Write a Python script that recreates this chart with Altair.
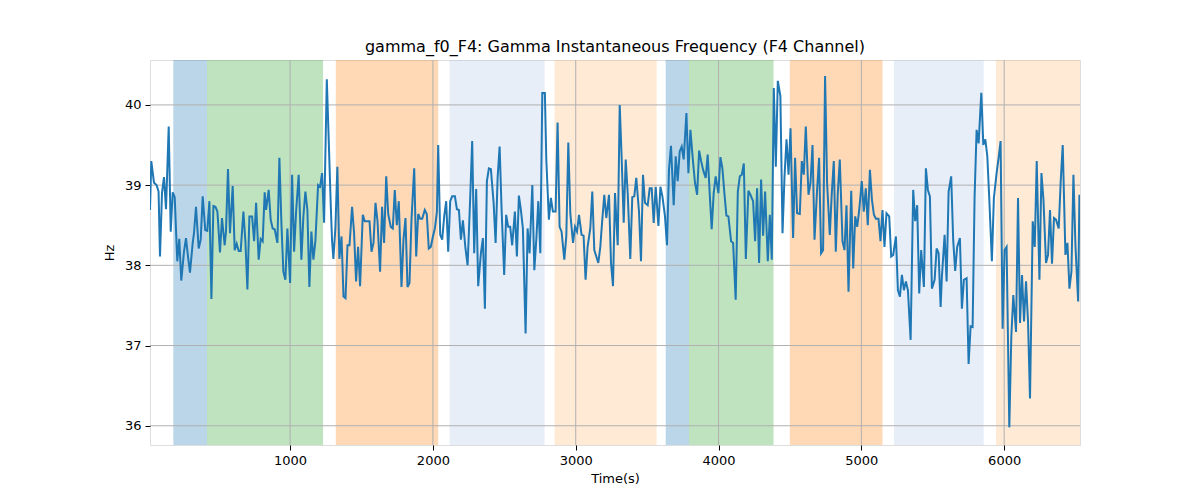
import altair as alt
import pandas as pd

TITLE = "gamma_f0_F4: Gamma Instantaneous Frequency (F4 Channel)"

time_s = [
    19, 28, 47, 65, 79, 89, 103, 117, 131, 150, 164, 178, 192, 210, 224, 238, 257, 271, 285, 299,
    318, 327, 341, 360, 374, 388, 406, 420, 435, 449, 463, 477, 491, 509, 523, 542, 551, 565, 579, 598,
    612, 626, 640, 654, 673, 687, 701, 715, 734, 748, 762, 780, 794, 808, 822, 832, 850, 864, 878, 892,
    911, 925,
    939, 953, 967, 981, 1000, 1014, 1028, 1042, 1060, 1079, 1093, 1107, 1121, 1135, 1149, 1163, 1177, 1196, 1210,
    1224, 1238, 1257, 1271, 1285, 1294, 1303, 1317, 1331, 1345, 1360, 1374, 1388, 1402, 1416, 1434, 1448, 1462,
    1476, 1490, 1509, 1523, 1537, 1556, 1570, 1584, 1598, 1612, 1630, 1644, 1658, 1673, 1687, 1705, 1719, 1733,
    1747, 1761, 1780, 1794, 1808, 1822, 1836, 1850, 1869,
    1883, 1897, 1911, 1925, 1943, 1957, 1971, 1985, 2000, 2014, 2028, 2037, 2051, 2065, 2079, 2093, 2107, 2121,
    2135, 2154, 2168, 2182, 2196, 2210, 2228, 2243, 2261, 2275, 2289, 2303, 2317, 2336, 2350, 2364, 2378, 2392,
    2406, 2425, 2439, 2453, 2467, 2481, 2499, 2513, 2527, 2541, 2555, 2574, 2588, 2602, 2616, 2630, 2649, 2663,
    2677, 2696, 2710, 2724, 2738, 2752, 2766, 2784,
    2794, 2812, 2826, 2840, 2859, 2873, 2887, 2901, 2920, 2934, 2948, 2962, 2981, 2995, 3009, 3023, 3041, 3055,
    3069, 3083, 3102, 3116, 3130, 3144, 3158, 3172, 3186, 3200, 3214, 3233, 3247, 3261, 3275, 3294, 3308, 3322,
    3336, 3350, 3364, 3382, 3396, 3410, 3424, 3443, 3457, 3471, 3485, 3504, 3518, 3532, 3546, 3560, 3579, 3593,
    3607, 3625, 3639, 3653, 3667, 3686,
    3700, 3714, 3728, 3742, 3756, 3775, 3789, 3803, 3821, 3835, 3850, 3864, 3878, 3892, 3910, 3924, 3938, 3952,
    3966, 3980, 3999, 4013, 4027, 4041, 4055, 4069, 4088, 4102, 4120, 4135, 4149, 4163, 4177, 4191, 4209, 4223,
    4242, 4256, 4270, 4284, 4298, 4312, 4326, 4345, 4359, 4373, 4387, 4401, 4415, 4433, 4448, 4462, 4476, 4490,
    4504, 4522, 4536, 4550, 4569, 4583, 4597, 4611, 4630, 4644,
    4658, 4672, 4690, 4704, 4718, 4732, 4746, 4760, 4779, 4793, 4807, 4821, 4835, 4849, 4868, 4882, 4896, 4910,
    4929, 4943, 4957, 4971, 4985, 5003, 5017, 5031, 5045, 5060, 5074, 5088, 5102, 5120, 5134, 5148, 5162, 5176,
    5195, 5209, 5223, 5242, 5256, 5270, 5284, 5298, 5312, 5326, 5345, 5363, 5377, 5391, 5405, 5419, 5438, 5452,
    5466, 5480, 5494, 5513, 5527, 5541, 5555,
    5564, 5583, 5597, 5611, 5629, 5643, 5657, 5671, 5690, 5704, 5718, 5737, 5751, 5765, 5779, 5793, 5807, 5821,
    5840, 5854, 5868, 5882, 5896, 5914, 5928, 5947, 5961, 5975, 5989, 6003, 6017, 6036, 6050, 6064, 6083, 6097,
    6111, 6125, 6139, 6153, 6167, 6181, 6200, 6214, 6228, 6247, 6261, 6275, 6293, 6307, 6321, 6335, 6349, 6363,
    6382, 6396, 6410, 6429, 6443, 6457, 6471, 6485, 6499, 6518, 6527,
]

freq_hz = [
    38.69, 39.30, 39.03, 39.00, 38.92, 38.11, 38.90, 39.10, 38.70, 39.73, 38.42, 38.91, 38.85, 38.05, 38.33, 37.81, 38.17, 38.34, 38.11, 37.91,
    38.28, 38.40, 38.73, 38.21, 38.32, 38.86, 38.44, 38.43, 38.80, 37.58, 38.74, 38.73, 38.67, 38.16, 38.59, 38.25, 38.42, 39.20, 38.40, 38.99,
    38.19, 38.27, 38.18, 38.18, 38.67, 38.30, 37.70, 38.61, 38.61, 38.30, 38.78, 38.07, 38.33, 38.30, 38.91, 38.69, 38.94, 38.57, 38.46, 38.45,
    38.28, 39.34,
    38.53, 37.92, 37.82, 38.46, 37.78, 39.13, 38.17, 38.67, 39.13, 38.07, 38.61, 38.92, 38.69, 37.73, 38.42, 38.07, 38.30, 39.00, 38.98,
    39.15, 38.53, 40.32, 39.53, 38.73, 38.30, 38.08, 38.46, 39.23, 38.08, 38.36, 37.61, 37.59, 38.25, 38.25, 38.73, 38.40, 37.80,
    38.23, 37.74, 38.63, 38.55, 38.55, 38.55, 38.17, 38.28, 38.78, 38.55, 37.92, 38.73, 38.28, 39.11, 38.64, 38.48, 38.46, 38.94,
    38.50, 38.80, 37.73, 38.32, 38.59, 37.73, 37.78, 38.57, 39.21,
    38.11, 38.64, 38.58, 38.58, 38.69, 38.64, 38.21, 38.23, 38.36, 38.46, 38.67, 39.50, 38.38, 38.32, 38.61, 38.80, 38.17, 38.80,
    38.86, 38.86, 38.70, 38.69, 38.32, 38.56, 38.21, 38.00, 38.84, 39.55, 38.15, 38.95, 37.74, 38.15, 38.34, 37.46, 39.05, 39.21,
    39.20, 38.78, 38.28, 39.09, 39.48, 38.69, 37.88, 38.63, 38.48, 38.48, 38.25, 38.67, 38.11, 38.87, 38.69, 38.46, 37.15, 38.46,
    38.15, 39.00, 37.94, 38.32, 38.80, 38.15, 40.15, 40.15,
    39.32, 38.57, 38.84, 38.67, 38.67, 39.78, 38.48, 38.42, 38.07, 38.36, 39.53, 38.65, 38.28, 38.48, 38.42, 38.63, 38.38, 38.37,
    37.82, 38.23, 38.46, 38.92, 38.19, 38.11, 38.03, 38.23, 38.57, 38.88, 38.59, 38.88, 38.03, 37.74, 38.90, 38.25, 40.00, 39.32,
    38.53, 39.32, 38.90, 38.08, 38.85, 38.86, 39.09, 38.67, 38.05, 39.13, 38.78, 38.75, 38.96, 38.96, 38.53, 38.98, 38.49, 38.98,
    38.86, 38.61, 38.25, 39.19, 39.49, 38.75,
    39.36, 39.05, 39.42, 39.48, 39.32, 39.90, 39.15, 39.69, 39.30, 39.03, 38.88, 39.43, 39.30, 39.19, 39.09, 39.38, 38.90, 38.45,
    38.90, 39.11, 38.90, 39.35, 39.21, 38.90, 38.62, 38.61, 38.30, 38.28, 37.57, 38.92, 39.11, 39.13, 39.27, 38.08, 38.93, 38.88,
    38.80, 38.30, 38.96, 38.03, 39.07, 38.37, 38.92, 38.05, 38.63, 38.07, 40.21, 39.23, 40.30, 40.11, 38.40, 39.11, 39.57, 39.13,
    39.71, 38.34, 39.34, 38.65, 38.64, 39.30, 39.13, 39.73, 38.88, 39.03,
    39.50, 38.32, 38.94, 39.34, 38.15, 38.19, 40.36, 39.03, 38.38, 38.90, 39.30, 38.17, 38.90, 39.32, 38.30, 38.19, 38.75, 37.67,
    38.93, 37.96, 38.61, 38.48, 38.69, 39.05, 38.67, 38.96, 38.50, 39.19, 38.82, 38.63, 38.58, 38.58, 38.30, 38.69, 38.23, 38.65,
    38.61, 38.11, 38.13, 38.36, 37.69, 37.61, 37.88, 37.69, 37.80, 37.69, 37.07, 38.94, 38.55, 38.75, 37.65, 38.19, 37.73, 39.21,
    38.94, 38.86, 37.71, 37.82, 38.21, 38.15, 37.48,
    37.86, 38.38, 37.80, 38.92, 39.11, 38.32, 37.93, 38.23, 38.34, 37.46, 37.82, 37.84, 36.77, 37.24, 37.23, 38.86, 39.69, 39.52,
    40.15, 39.50, 39.57, 39.36, 38.82, 38.05, 38.84, 39.15, 39.34, 39.55, 37.21, 38.19, 38.23, 35.98, 37.11, 37.63, 37.17, 38.84,
    37.28, 37.88, 37.30, 37.80, 37.30, 36.34, 38.55, 38.23, 39.30, 37.82, 39.15, 38.82, 38.03, 38.13, 38.69, 38.02, 38.59, 38.57,
    38.46, 39.05, 39.50, 38.13, 38.28, 37.71, 37.92, 39.13, 38.25, 37.55, 38.88,
]

span_start = [182, 418, 1320, 2117, 2852, 3630, 3793, 4499, 5228, 5943]
span_end = [418, 1231, 2037, 2782, 3567, 3793, 4385, 5148, 5856, 6600]
span_kind = ["a", "b", "c", "d", "e", "a", "b", "c", "d", "e"]
kind_names = ["a", "b", "c", "d", "e"]
kind_colors = ["#1f77b4", "#2ca02c", "#ff7f0e", "#aec7e8", "#ffbb78"]

x_ticks = [1000, 2000, 3000, 4000, 5000, 6000]
y_ticks = [36, 37, 38, 39, 40]
x_domain = [19, 6531]
y_domain = [35.76, 40.56]

n = min(len(time_s), len(freq_hz))
line_df = pd.DataFrame({"t": time_s[:n], "hz": freq_hz[:n]})
span_df = pd.DataFrame({"s": span_start, "e": span_end, "k": span_kind})
xg_df = pd.DataFrame({"v": x_ticks})
yg_df = pd.DataFrame({"v": y_ticks})

FONT = "DejaVu Sans"

xscale = alt.Scale(domain=x_domain, nice=False, zero=False)
yscale = alt.Scale(domain=y_domain, nice=False, zero=False)

xaxis = alt.Axis(values=x_ticks, format="d", grid=False, domain=False, tickColor="black", tickSize=5,
                 labelColor="black", labelFontSize=13, labelFont=FONT, labelPadding=4,
                 title="Time(s)", titleFont=FONT, titleFontSize=13, titleFontWeight="normal",
                 titleColor="black", titlePadding=5, labelFlush=False)
yaxis = alt.Axis(values=y_ticks, format="d", grid=False, domain=False, tickColor="black", tickSize=5,
                 labelColor="black", labelFontSize=13, labelFont=FONT, labelPadding=4,
                 title="Hz", titleFont=FONT, titleFontSize=13, titleFontWeight="normal",
                 titleColor="black", titlePadding=8, labelFlush=False)

spans = alt.Chart(span_df).mark_rect(opacity=0.3, clip=True).encode(
    x=alt.X("s:Q", scale=xscale, axis=xaxis),
    x2="e:Q",
    color=alt.Color("k:N", scale=alt.Scale(domain=kind_names, range=kind_colors), legend=None),
)

xgrid = alt.Chart(xg_df).mark_rule(color="#b0b0b0", strokeWidth=1).encode(
    x=alt.X("v:Q", scale=xscale)
)
ygrid = alt.Chart(yg_df).mark_rule(color="#b0b0b0", strokeWidth=1).encode(
    y=alt.Y("v:Q", scale=yscale, axis=yaxis)
)

line = alt.Chart(line_df).mark_line(color="#1f77b4", strokeWidth=2, clip=True).encode(
    x=alt.X("t:Q", scale=xscale),
    y=alt.Y("hz:Q", scale=yscale),
)

chart = alt.layer(spans, xgrid, ygrid, line).properties(
    width=930,
    height=385,
    title=alt.TitleParams(TITLE, font=FONT, fontSize=16, fontWeight="normal", color="black",
                          anchor="middle", offset=5),
    autosize=alt.AutoSizeParams(type="none"),
    padding={"left": 142, "top": 52, "right": 100, "bottom": 40},
).configure_view(stroke="black", strokeWidth=1).configure(background="white")

chart.save("out.html", embed_options={"renderer": "svg", "actions": False})
